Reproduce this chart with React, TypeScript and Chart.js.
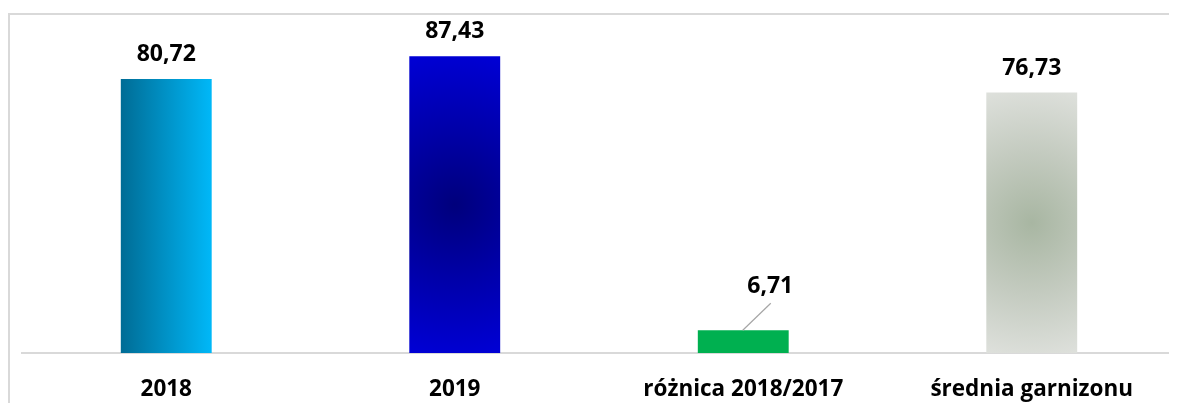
import React, { useEffect, useRef } from "react";
import { Chart, registerables } from "chart.js";

Chart.register(...registerables);

const categories = ["2018", "2019", "różnica 2018/2017", "średnia garnizonu"];
const values = [80.72, 87.43, 6.71, 76.73];
const yMin = 0;
const yMax = 100;
const BAR_PCT = 0.315;

const fmt = (v: number) => v.toFixed(2).replace(".", ",");

const FONT = "'Open Sans', Lato, sans-serif";

function barFill(c: any) {
  const chart = c.chart;
  const i = c.dataIndex;
  const xs = chart.scales?.x;
  const ys = chart.scales?.y;
  if (i === 2 || !xs || !ys || !chart.chartArea) return "#00b050";
  const ctx = chart.ctx;
  const x = xs.getPixelForValue(i);
  const width = (xs.width / categories.length) * BAR_PCT;
  const left = x - width / 2;
  const right = x + width / 2;
  const y = ys.getPixelForValue(values[i]);
  const base = ys.getPixelForValue(0);
  const cy = (y + base) / 2;
  const h = base - y;
  if (i === 0) {
    const g = ctx.createLinearGradient(left, 0, right, 0);
    g.addColorStop(0, "#006c95");
    g.addColorStop(1, "#00b8f8");
    return g;
  }
  if (i === 1) {
    const g = ctx.createRadialGradient(x, cy, 0, x, cy, h * 0.55);
    g.addColorStop(0, "#00007c");
    g.addColorStop(0.45, "#0000a8");
    g.addColorStop(1, "#0000da");
    return g;
  }
  const g = ctx.createRadialGradient(x, cy, 0, x, cy, h * 0.55);
  g.addColorStop(0, "#a8b6a2");
  g.addColorStop(0.5, "#c4cbc0");
  g.addColorStop(1, "#e0e2de");
  return g;
}

const frameAndLabels = {
  id: "frameAndLabels",
  afterDatasetsDraw(chart: any) {
    const ctx = chart.ctx;
    ctx.save();
    // chart frame
    ctx.strokeStyle = "#d9d9d9";
    ctx.lineWidth = 2;
    ctx.beginPath();
    ctx.moveTo(1, chart.height + 5);
    ctx.lineTo(1, 6);
    ctx.lineTo(chart.width + 5, 6);
    ctx.stroke();

    const meta = chart.getDatasetMeta(0);
    ctx.font = `bold 23px ${FONT}`;
    ctx.fillStyle = "#000000";
    ctx.textAlign = "center";
    ctx.textBaseline = "alphabetic";
    meta.data.forEach((el: any, i: number) => {
      const { x, y } = el.getProps(["x", "y"], true);
      const text = fmt(values[i]);
      if (i === 2) {
        ctx.strokeStyle = "#a6a6a6";
        ctx.lineWidth = 1.2;
        ctx.beginPath();
        ctx.moveTo(x - 0.5, y);
        ctx.lineTo(x + 27.5, y - 27);
        ctx.stroke();
        ctx.fillText(text, x + 27, y - 37);
      } else {
        ctx.fillText(text, x, y - 18);
      }
    });
    ctx.restore();
  },
};

export default function App() {
  const ref = useRef<HTMLCanvasElement>(null);
  useEffect(() => {
    if (!ref.current) return;
    const chart = new Chart(ref.current, {
      type: "bar",
      data: {
        labels: categories,
        datasets: [
          {
            data: values,
            backgroundColor: barFill as any,
            borderWidth: 0,
            barPercentage: BAR_PCT,
            categoryPercentage: 1,
          },
        ],
      },
      options: {
        animation: false,
        responsive: false,
        maintainAspectRatio: false,
        layout: { padding: { left: 14, right: 1, top: 5.6, bottom: 0 } },
        plugins: { legend: { display: false }, tooltip: { enabled: false } },
        scales: {
          x: {
            grid: { display: false, drawTicks: false },
            border: { display: true, color: "#d9d9d9", width: 2 },
            ticks: {
              color: "#000000",
              font: { family: FONT, size: 22.5, weight: "bold" },
              padding: 23,
              maxRotation: 0,
              autoSkip: false,
            },
            afterFit(scale: any) {
              scale.height = 50;
            },
          },
          y: { display: false, min: yMin, max: yMax },
        },
      },
      plugins: [frameAndLabels],
    });
    return () => chart.destroy();
  }, []);
  return (
    <div style={{ width: 1169, height: 395, overflow: "hidden" }}>
      <canvas ref={ref} width={1169} height={395} style={{ display: "block" }} />
    </div>
  );
}
